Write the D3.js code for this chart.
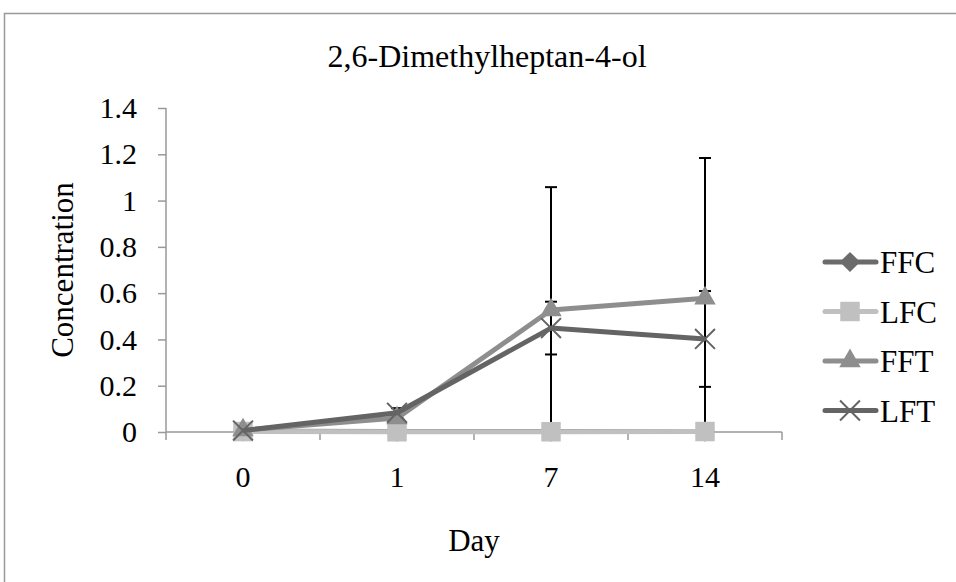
<!DOCTYPE html>
<html>
<head>
<meta charset="utf-8">
<script src="https://cdn.jsdelivr.net/npm/d3@7"></script>
<style>
  body { margin: 0; background: #fff; }
  svg { display: block; font-family: "Liberation Serif", "Times New Roman", serif; }
  .axis path, .axis line { stroke: #999; stroke-width: 1.5px; }
  .axis text { fill: #000; font-size: 30px; font-family: "Liberation Serif", "Times New Roman", serif; }
</style>
</head>
<body>
<svg id="chart" width="956" height="582"></svg>
<script>
"use strict";

// values
const days = ['0', '1', '7', '14'];
const seriesNames = ['FFC', 'LFC', 'FFT', 'LFT'];
const ffc = [0.003, 0.002, 0.002, 0.002];
const lfc = [0.002, 0.001, 0.001, 0.002];
const fft = [0.008, 0.06, 0.527, 0.578];
const lft = [0.006, 0.083, 0.449, 0.402];
const fftErr = [0, 0.01, 0.531, 0.606];
const lftErr = [0, 0.02, 0.114, 0.207];
const yTicks = [0, 0.2, 0.4, 0.6, 0.8, 1, 1.2, 1.4];

(function () {
  const svg = d3.select('#chart');

  const left = 166, right = 782, top = 108, bottom = 432;

  // outer frame
  svg.append('rect')
    .attr('x', 4.5).attr('y', 13.5)
    .attr('width', 1000).attr('height', 1000)
    .attr('fill', 'none').attr('stroke', '#999').attr('stroke-width', 1.5);

  const x = d3.scaleBand().domain(days).range([left, right]);
  const y = d3.scaleLinear().domain([0, 1.4]).range([bottom, top]);

  const cx = function (d) { return x(d) + x.bandwidth() / 2; };

  // axes
  const yAxis = d3.axisLeft(y).tickValues(yTicks).tickSize(8).tickPadding(21)
    .tickFormat(function (d) { return d3.format('')(d); });
  svg.append('g').attr('class', 'axis')
    .attr('transform', 'translate(' + left + ',0)')
    .call(yAxis)
    .call(g => g.select('.domain').attr('d', 'M0,' + top + 'V' + bottom));

  const xAxis = d3.axisBottom(x).tickSize(0).tickPadding(34);
  const gx = svg.append('g').attr('class', 'axis')
    .attr('transform', 'translate(0,' + bottom + ')')
    .call(xAxis);
  gx.select('.domain').attr('d', 'M' + left + ',0H' + right);
  // tick marks between categories
  gx.selectAll('line.sep')
    .data(d3.range(days.length + 1))
    .enter().append('line')
    .attr('class', 'sep')
    .attr('x1', function (i) { return left + i * x.bandwidth(); })
    .attr('x2', function (i) { return left + i * x.bandwidth(); })
    .attr('y1', 0).attr('y2', 8);

  // titles
  svg.append('text')
    .attr('x', 487).attr('y', 67)
    .attr('text-anchor', 'middle')
    .style('font-size', '32px')
    .text('2,6-Dimethylheptan-4-ol');

  svg.append('text')
    .attr('x', 474).attr('y', 551)
    .attr('text-anchor', 'middle')
    .style('font-size', '31px')
    .text('Day');

  svg.append('text')
    .attr('transform', 'translate(73,270) rotate(-90)')
    .attr('text-anchor', 'middle')
    .style('font-size', '31px')
    .text('Concentration');

  // error bars, clipped to plot area
  svg.append('clipPath').attr('id', 'plot-clip')
    .append('rect').attr('x', left).attr('y', 0)
    .attr('width', right - left).attr('height', bottom);

  const errGroup = svg.append('g').attr('clip-path', 'url(#plot-clip)');
  function drawErr(vals, errs) {
    days.forEach(function (d, i) {
      if (errs[i] <= 0) return;
      const hi = y(vals[i] + errs[i]);
      const lo = y(vals[i] - errs[i]);
      const px = cx(d);
      errGroup.append('line')
        .attr('x1', px).attr('x2', px).attr('y1', hi).attr('y2', lo)
        .attr('stroke', '#000').attr('stroke-width', 2);
      [hi, lo].forEach(function (yy) {
        errGroup.append('line')
          .attr('x1', px - 6).attr('x2', px + 6).attr('y1', yy).attr('y2', yy)
          .attr('stroke', '#000').attr('stroke-width', 2);
      });
    });
  }
  drawErr(fft, fftErr);
  drawErr(lft, lftErr);

  const colors = { FFC: '#6b6b6b', LFC: '#c0c0c0', FFT: '#8e8e8e', LFT: '#646464' };
  const symbols = {
    FFC: d3.symbol().type(d3.symbolDiamond2).size(260),
    LFC: d3.symbol().type(d3.symbolSquare).size(380),
    FFT: d3.symbol().type(d3.symbolTriangle).size(200),
    LFT: d3.symbol().type(d3.symbolTimes).size(260)
  };
  const allValues = { FFC: ffc, LFC: lfc, FFT: fft, LFT: lft };

  function drawMarker(g, name, px, py) {
    const p = g.append('path')
      .attr('d', symbols[name]())
      .attr('transform', 'translate(' + px + ',' + py + ')');
    if (name === 'LFT') {
      p.attr('fill', 'none').attr('stroke', colors[name]).attr('stroke-width', 2);
    } else {
      p.attr('fill', colors[name]);
    }
  }

  const line = d3.line()
    .x(function (d) { return cx(d.day); })
    .y(function (d) { return y(d.v); });

  seriesNames.forEach(function (name) {
    const pts = days.map(function (d, i) { return { day: d, v: allValues[name][i] }; });
    const g = svg.append('g');
    g.append('path')
      .datum(pts)
      .attr('d', line)
      .attr('fill', 'none')
      .attr('stroke', colors[name])
      .attr('stroke-width', 5)
      .attr('stroke-linejoin', 'round');
    pts.forEach(function (p) { drawMarker(g, name, cx(p.day), y(p.v)); });
  });

  // legend
  const legend = svg.append('g');
  seriesNames.forEach(function (name, i) {
    const ly = 262 + i * 49.5;
    const g = legend.append('g');
    g.append('line')
      .attr('x1', 825).attr('x2', 876).attr('y1', ly).attr('y2', ly)
      .attr('stroke', colors[name]).attr('stroke-width', 5)
      .attr('stroke-linecap', 'round');
    drawMarker(g, name, 850, ly);
    g.append('text')
      .attr('x', 880).attr('y', ly + 11)
      .style('font-size', '31px')
      .text(name);
  });
})();
</script>
</body>
</html>
